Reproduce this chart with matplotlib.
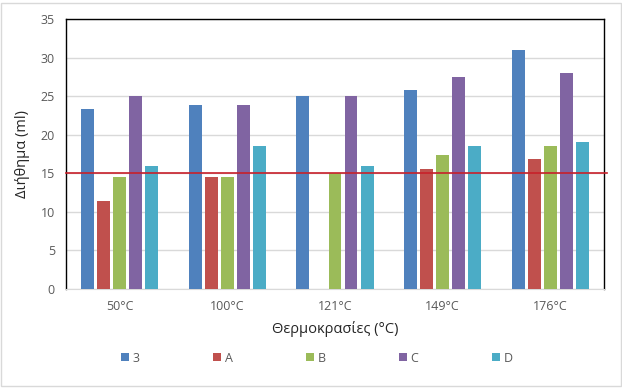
import matplotlib
matplotlib.use('Agg')
import matplotlib.pyplot as plt
import numpy as np
from matplotlib.patches import Rectangle

categories = ['50°C', '100°C', '121°C', '149°C', '176°C']
series_names = ['3', 'A', 'B', 'C', 'D']
s3 = [23.3, 23.9, 25.0, 25.8, 31.0]
sA = [11.4, 14.5, 0.0, 15.5, 16.9]
sB = [14.5, 14.5, 15.0, 17.4, 18.5]
sC = [25.0, 23.9, 25.0, 27.5, 28.0]
sD = [16.0, 18.5, 16.0, 18.5, 19.0]
limit = 15
colors = ['#4F81BD', '#C0504D', '#9BBB59', '#8064A2', '#4BACC6']


def main():
    plt.rcParams['font.family'] = ['Open Sans', 'DejaVu Sans']
    fig = plt.figure(figsize=(6.22, 3.89), dpi=100)
    ax = fig.add_axes([66 / 622, 1 - 289 / 389, 538 / 622, 270 / 389])

    x = np.arange(len(categories))
    pitch = 0.149
    width = 0.12
    for i, (name, vals) in enumerate(zip(series_names, [s3, sA, sB, sC, sD])):
        ax.bar(x + (i - 2) * pitch, vals, width, color=colors[i], label=name, zorder=3)

    ax.axhline(limit, color='#C8202A', linewidth=1.2, zorder=4, xmax=1.006, clip_on=False)

    ax.set_xlim(-0.5, len(categories) - 0.5)
    ax.set_ylim(0, 35)
    ax.set_yticks(np.arange(0, 36, 5))
    ax.set_xticks(x)
    ax.set_xticklabels(categories)
    ax.tick_params(length=0, labelsize=9, colors='#595959', pad=8)
    ax.grid(True, axis='y', color='#D9D9D9', linewidth=1, zorder=0)
    for side in ['left', 'top', 'right']:
        ax.spines[side].set_color('black')
        ax.spines[side].set_linewidth(1)
    ax.spines['bottom'].set_color('#D9D9D9')

    ax.set_xlabel('Θερμοκρασίες (°C)', fontsize=10.5, color='#262626', labelpad=6)
    ax.set_ylabel('Διήθημα (ml)', fontsize=10.5, color='#262626', labelpad=8)

    handles, labels = ax.get_legend_handles_labels()
    fig.legend(handles, labels, loc='center', bbox_to_anchor=(317 / 622, 1 - 358 / 389),
               ncol=5, frameon=False, fontsize=9, handlelength=0.6, handleheight=0.6,
               handletextpad=0.3, columnspacing=5.9, labelcolor='#595959')

    fig.patches.append(Rectangle((0.002, 0.008), 0.996, 0.985, transform=fig.transFigure,
                                 fill=False, edgecolor='#D9D9D9', linewidth=1))
    fig.savefig('out.png', dpi=100)


if __name__ == '__main__':
    main()
